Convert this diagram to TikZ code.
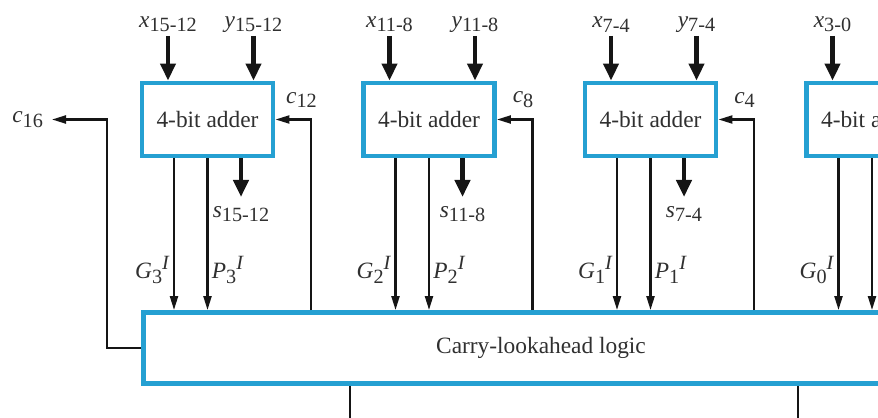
\documentclass[tikz,border=0pt]{standalone}
\usepackage{fontspec}
\setmainfont{LiberationSerif}[Extension=.ttf, UprightFont=*-Regular, ItalicFont=*-Italic,
  BoldFont=*-Bold, BoldItalicFont=*-BoldItalic]
\usetikzlibrary{arrows.meta,positioning,calc}
\definecolor{cyanline}{HTML}{25A0D2}
\definecolor{ink}{HTML}{151515}
\definecolor{labelgray}{HTML}{303030}
\newcommand{\busname}[2]{\textit{#1}\raisebox{-.45ex}{\fontsize{11.5}{12}\selectfont #2}}
\newcommand{\gpname}[2]{\textit{#1}\raisebox{-.45ex}{\fontsize{11.5}{12}\selectfont #2}\raisebox{.8ex}{\fontsize{11.5}{12}\selectfont\textit{I}}}
\tikzset{
  adder/.style={draw=cyanline, fill=white, line width=2.8pt, minimum width=2.62cm,
    minimum height=1.46cm, inner sep=0pt, text=labelgray},
  logic/.style={adder, minimum width=15.9cm, minimum height=1.42cm},
  bus/.style={-{Triangle[length=3.4mm,width=3mm]}, draw=ink, line width=2.6pt},
  sig/.style={-{Triangle[length=2.8mm,width=1.6mm]}, draw=ink, line width=1.25pt},
  wire/.style={draw=ink, line width=1.25pt},
  vname/.style={inner sep=2pt, text=labelgray}
}
\begin{document}
\begin{tikzpicture}[x=1cm,y=1cm,font=\fontsize{13.3}{16}\selectfont]
  \useasboundingbox (0,0) rectangle (17.56,8.34);
  \clip (0,0) rectangle (17.56,8.34);

  \node[adder] (add3) at (4.15,5.95) {4-bit adder};
  \node[adder] (add2) at (8.58,5.95) {4-bit adder};
  \node[adder] (add1) at (13.01,5.95) {4-bit adder};
  \node[adder] (add0) at (17.44,5.95) {4-bit adder};
  \node[logic] (cla) at (10.82,1.38) {Carry-lookahead logic};

  % operand inputs
  \node[vname, anchor=south] (x3) at (3.36,7.62) {\busname{x}{15-12}};
  \node[vname, anchor=south] (y3) at (5.07,7.62) {\busname{y}{15-12}};
  \node[vname, anchor=south] (x2) at (7.79,7.62) {\busname{x}{11-8}};
  \node[vname, anchor=south] (y2) at (9.50,7.62) {\busname{y}{11-8}};
  \node[vname, anchor=south] (x1) at (12.22,7.62) {\busname{x}{7-4}};
  \node[vname, anchor=south] (y1) at (13.93,7.62) {\busname{y}{7-4}};
  \node[vname, anchor=south] (x0) at (16.65,7.62) {\busname{x}{3-0}};
  \draw[bus] (x3.south) -- (x3.south |- add3.north);
  \draw[bus] (y3.south) -- (y3.south |- add3.north);
  \draw[bus] (x2.south) -- (x2.south |- add2.north);
  \draw[bus] (y2.south) -- (y2.south |- add2.north);
  \draw[bus] (x1.south) -- (x1.south |- add1.north);
  \draw[bus] (y1.south) -- (y1.south |- add1.north);
  \draw[bus] (x0.south) -- (x0.south |- add0.north);

  % sum outputs
  \node[vname, anchor=north, inner ysep=5pt] (s3) at (4.82,4.40) {\busname{s}{15-12}};
  \node[vname, anchor=north, inner ysep=5pt] (s2) at (9.25,4.40) {\busname{s}{11-8}};
  \node[vname, anchor=north, inner ysep=5pt] (s1) at (13.68,4.40) {\busname{s}{7-4}};
  \draw[bus] (s3.north |- add3.south) -- (s3.north);
  \draw[bus] (s2.north |- add2.south) -- (s2.north);
  \draw[bus] (s1.north |- add1.south) -- (s1.north);

  % generate / propagate
  \draw[sig] ([xshift=-.67cm]add3.south) -- ([xshift=-.67cm]add3.south |- cla.north);
  \draw[sig] (add3.south) -- (add3.south |- cla.north);
  \draw[sig] ([xshift=-.67cm]add2.south) -- ([xshift=-.67cm]add2.south |- cla.north);
  \draw[sig] (add2.south) -- (add2.south |- cla.north);
  \draw[sig] ([xshift=-.67cm]add1.south) -- ([xshift=-.67cm]add1.south |- cla.north);
  \draw[sig] (add1.south) -- (add1.south |- cla.north);
  \draw[sig] ([xshift=-.67cm]add0.south) -- ([xshift=-.67cm]add0.south |- cla.north);
  \draw[sig] (add0.south) -- (add0.south |- cla.north);
  \node[vname, anchor=east] (g3) at (3.47,2.94) {\gpname{G}{3}};
  \node[vname, anchor=west] (p3) at (4.16,2.94) {\gpname{P}{3}};
  \node[vname, anchor=east] (g2) at (7.90,2.94) {\gpname{G}{2}};
  \node[vname, anchor=west] (p2) at (8.59,2.94) {\gpname{P}{2}};
  \node[vname, anchor=east] (g1) at (12.33,2.94) {\gpname{G}{1}};
  \node[vname, anchor=west] (p1) at (13.02,2.94) {\gpname{P}{1}};
  \node[vname, anchor=east] (g0) at (16.76,2.94) {\gpname{G}{0}};

  % carries
  \node[vname] (c12) at (6.03,6.34) {\busname{c}{12}};
  \node[vname] (c8) at (10.46,6.34) {\busname{c}{8}};
  \node[vname] (c4) at (14.89,6.34) {\busname{c}{4}};
  \coordinate (c12turn) at (6.22,5.95);
  \coordinate (c8turn) at (10.65,5.95);
  \coordinate (c4turn) at (15.08,5.95);
  \draw[sig] (cla.north -| c12turn) |- (add3.east);
  \draw[sig] (cla.north -| c8turn) |- (add2.east);
  \draw[sig] (cla.north -| c4turn) |- (add1.east);

  \node[vname, anchor=east, inner xsep=5pt] (c16) at (1.04,5.95) {\busname{c}{16}};
  \coordinate (c16turn) at (2.14,5.95);
  \draw[sig] (cla.west) -| (c16turn) -- (c16.east);

  % lines leaving the logic block
  \coordinate (out1) at (7.0,-0.5);
  \coordinate (out2) at (15.96,-0.5);
  \draw[wire] (cla.south -| out1) -- (out1);
  \draw[wire] (cla.south -| out2) -- (out2);
\end{tikzpicture}
\end{document}
